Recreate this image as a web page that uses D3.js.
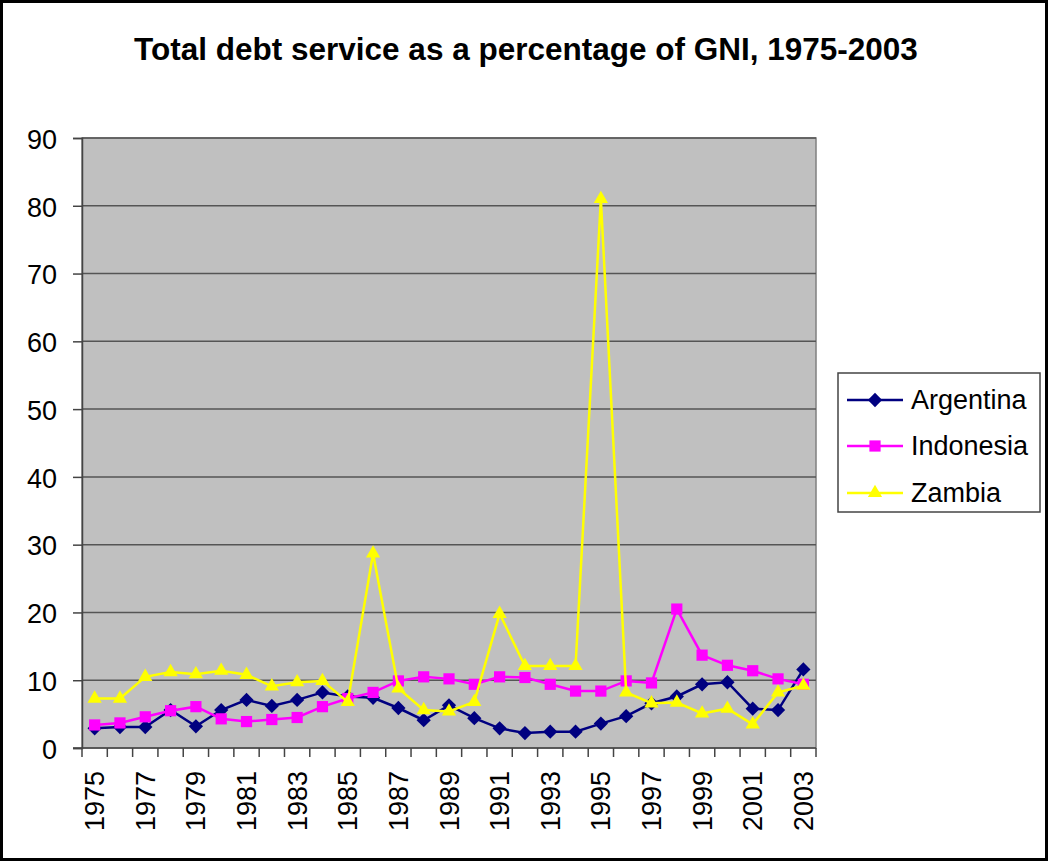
<!DOCTYPE html>
<html><head><meta charset="utf-8">
<script src="https://cdn.jsdelivr.net/npm/d3@7"></script>
<style>body{margin:0;background:#fff}svg{display:block}text{font-family:Arial,"Liberation Sans",sans-serif}</style>
</head><body>
<svg id="c" width="1048" height="861"></svg>
<script>
const years = d3.range(1975, 2004).map(String);
const argentina = [2.9,3.1,3.1,5.6,3.2,5.6,7.1,6.2,7.1,8.2,7.6,7.4,5.9,4.1,6.3,4.4,2.9,2.2,2.4,2.4,3.6,4.7,6.6,7.6,9.4,9.7,5.8,5.6,11.6];
const indonesia = [3.4,3.7,4.6,5.5,6.1,4.3,3.9,4.2,4.5,6.1,7.3,8.2,9.9,10.5,10.2,9.4,10.5,10.4,9.4,8.4,8.4,9.9,9.6,20.5,13.7,12.2,11.4,10.2,9.4];
const zambia = [7.3,7.3,10.5,11.2,10.9,11.4,10.8,9.1,9.7,9.9,6.8,28.7,8.8,5.6,5.4,6.8,19.8,12.1,12.1,12.1,81.0,8.2,6.6,6.7,5.1,5.8,3.5,8.2,9.2];
const seriesNames = ["Argentina","Indonesia","Zambia"];
const seriesColors = ["#000080","#FF00FF","#FFFF00"];
const seriesShapes = [d3.symbolDiamond2, d3.symbolSquare2, d3.symbolTriangle2];
const yTicks = [0,10,20,30,40,50,60,70,80,90];
const title = "Total debt service as a percentage of GNI, 1975-2003";

const svg = d3.select("#c");
const L = 82, R = 816, T = 138, B = 748;
const x = d3.scaleBand().domain(years).range([L, R]).padding(0);
const y = d3.scaleLinear().domain([0, 90]).range([B, T]);

svg.append("rect").attr("x",1.5).attr("y",1.5).attr("width",1045).attr("height",858)
  .attr("fill","#fff").attr("stroke","#000").attr("stroke-width",3);

svg.append("text").attr("x",526).attr("y",60).attr("text-anchor","middle")
  .attr("font-size",31.5).attr("font-weight","bold").text(title);

svg.append("rect").attr("x",L).attr("y",T).attr("width",R-L).attr("height",B-T)
  .attr("fill","#C0C0C0").attr("stroke","#808080").attr("stroke-width",1.5);

// gridlines
svg.append("g").selectAll("line").data(yTicks.filter(d=>d>0)).join("line")
  .attr("x1",L).attr("x2",R).attr("y1",d=>y(d)).attr("y2",d=>y(d))
  .attr("stroke","#555").attr("stroke-width",1.5);

// y axis
const yAxis = svg.append("g").attr("transform",`translate(${L},0)`)
  .call(d3.axisLeft(y).tickValues(yTicks).tickSize(9).tickPadding(16));
yAxis.select(".domain").attr("stroke","#444").attr("stroke-width",1.5);
yAxis.selectAll(".tick line").attr("stroke","#444").attr("stroke-width",1.5);
yAxis.selectAll("text").attr("font-size",27).attr("dy","0.38em").attr("fill","#000").attr("font-family","Arial, 'Liberation Sans', sans-serif");

// x axis: ticks at category boundaries
const bounds = years.map(d=>x(d)).concat([R]);
const xg = svg.append("g");
xg.append("line").attr("x1",L-9).attr("x2",R).attr("y1",B).attr("y2",B).attr("stroke","#444").attr("stroke-width",1.5);
xg.selectAll("line.t").data(bounds).join("line").attr("class","t")
  .attr("x1",d=>d).attr("x2",d=>d).attr("y1",B).attr("y2",B+9).attr("stroke","#444").attr("stroke-width",1.5);
xg.selectAll("text").data(years.filter((d,i)=>i%2===0)).join("text")
  .attr("transform",d=>`translate(${x(d)+x.bandwidth()/2+9.5},771) rotate(-90)`)
  .attr("text-anchor","end").attr("font-size",27).text(d=>d);

// series
const data = [argentina, indonesia, zambia];
const line = d3.line().x((d,i)=>x(years[i])+x.bandwidth()/2).y(d=>y(d));
const sizes = [130, 160, 145];
data.forEach((vals, k) => {
  const g = svg.append("g");
  g.append("path").datum(vals).attr("d", line).attr("fill","none")
    .attr("stroke", seriesColors[k]).attr("stroke-width", 2.5);
  g.selectAll("path.m").data(vals).join("path").attr("class","m")
    .attr("transform",(d,i)=>`translate(${x(years[i])+x.bandwidth()/2},${y(d)})`)
    .attr("d", d3.symbol().type(seriesShapes[k]).size(sizes[k]))
    .attr("fill", seriesColors[k]);
});

// legend
const lg = svg.append("g");
lg.append("rect").attr("x",838).attr("y",373).attr("width",202).attr("height",139)
  .attr("fill","#fff").attr("stroke","#444").attr("stroke-width",1.5);
const rowsY = [400, 446, 493];
seriesNames.forEach((n,k)=>{
  lg.append("line").attr("x1",847).attr("x2",903).attr("y1",rowsY[k]).attr("y2",rowsY[k])
    .attr("stroke",seriesColors[k]).attr("stroke-width",2.5);
  lg.append("path").attr("transform",`translate(875,${rowsY[k]})`)
    .attr("d", d3.symbol().type(seriesShapes[k]).size(sizes[k])).attr("fill",seriesColors[k]);
  lg.append("text").attr("x",911).attr("y",rowsY[k]).attr("dy","0.35em")
    .attr("font-size",27).text(n);
});
</script>
</body></html>
